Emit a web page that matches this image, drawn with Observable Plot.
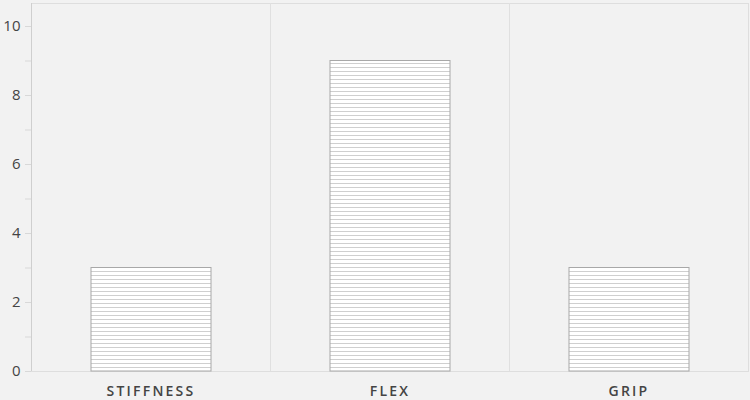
<!DOCTYPE html>
<html>
<head>
<meta charset="utf-8">
<script src="https://cdn.jsdelivr.net/npm/d3@7"></script>
<script src="https://cdn.jsdelivr.net/npm/@observablehq/plot@0.6"></script>
<style>
  html, body { margin: 0; padding: 0; background: #f2f2f2; }
  #chart svg { display: block; }
  .xlab text { letter-spacing: 2.2px; }
</style>
</head>
<body>
<svg width="0" height="0" style="position:absolute">
  <defs>
    <pattern id="hatch" patternUnits="userSpaceOnUse" width="8" height="4">
      <rect width="8" height="4" fill="#ffffff"></rect>
      <line x1="0" y1="3.5" x2="8" y2="3.5" stroke="#cfcfcf" stroke-width="1"></line>
    </pattern>
  </defs>
</svg>
<div id="chart"></div>
<script>
const categories = ["STIFFNESS", "FLEX", "GRIP"];
const values = [3, 9, 3];
const majorTicks = [0, 2, 4, 6, 8, 10];
const minorTicks = [1, 3, 5, 7, 9];

const data = categories.map((c, i) => ({category: c, value: values[i]}));

const chart = Plot.plot({
  width: 750,
  height: 400,
  marginTop: 3,
  marginLeft: 31,
  marginRight: 2,
  marginBottom: 29,
  style: {background: "#f2f2f2", fontFamily: "'Open Sans', sans-serif"},
  x: {domain: categories, padding: 0, label: null},
  y: {domain: [0, 10], insetTop: 23, label: null},
  marks: [
    Plot.frame({stroke: "#dedede"}),
    Plot.ruleX(categories.slice(1), {x: d => d, dx: -119.5, stroke: "#e0e0e0"}),
    Plot.ruleX([categories[0]], {dx: -119.5, stroke: "#cfcfcf"}),
    Plot.barY(data, {x: "category", y: "value", fill: "url(#hatch)", stroke: "#a8a8a8", strokeWidth: 1, insetLeft: 60, insetRight: 59}),
    Plot.axisY(majorTicks, {tickSize: 6, tickPadding: 5, stroke: "#d8d8d8", fill: "#444", fontSize: 15, tickFormat: d => String(d)}),
    Plot.axisY(minorTicks, {tickSize: 6, stroke: "#d8d8d8", tickFormat: () => ""}),
    Plot.axisX({tickSize: 0, tickPadding: 15, fill: "#444", fontSize: 14, fontWeight: 600, className: "xlab"})
  ]
});
document.getElementById("chart").appendChild(chart);
</script>
</body>
</html>
